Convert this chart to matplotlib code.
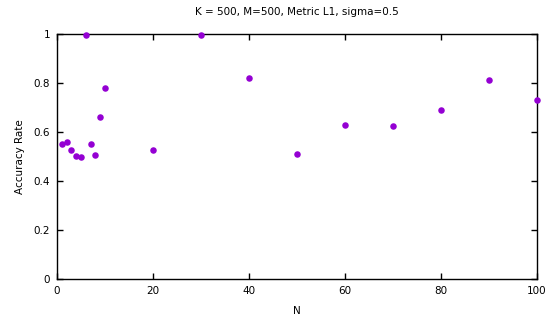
import matplotlib
matplotlib.use("Agg")
import matplotlib.pyplot as plt
from matplotlib.ticker import FuncFormatter

# Accuracy rate vs N (K = 500, M = 500, metric L1, sigma = 0.5)
n_values = [1, 2, 3, 4, 5, 6, 7, 8, 9, 10, 20, 30, 40, 50, 60, 70, 80, 90, 100]
accuracy = [0.550, 0.559, 0.525, 0.503, 0.499, 0.995, 0.550, 0.507, 0.662,
            0.778, 0.525, 0.995, 0.822, 0.510, 0.627, 0.624, 0.691, 0.811,
            0.729]

x_ticks = [0, 20, 40, 60, 80, 100]
y_ticks = [0, 0.2, 0.4, 0.6, 0.8, 1]

plt.rcParams['font.family'] = ['DejaVu Sans']
plt.rcParams['font.size'] = 7.5

fig = plt.figure(figsize=(5.46, 3.24), dpi=100)
ax = fig.add_axes([0.1044, 0.139, 0.8791, 0.756])

ax.scatter(n_values, accuracy, s=22, color='#9400D3', linewidths=0, zorder=3,
           clip_on=False)

ax.set_xlim(0, 100)
ax.set_ylim(0, 1)
ax.set_xticks(x_ticks)
ax.set_yticks(y_ticks)
ax.yaxis.set_major_formatter(FuncFormatter(lambda v, p: '%g' % v))
ax.tick_params(direction='in', top=True, right=True, length=4, width=1,
               labelsize=7.5, pad=5)
for s in ax.spines.values():
    s.set_linewidth(1.0)

ax.set_xlabel('N', fontsize=7.5, labelpad=7)
ax.set_ylabel('Accuracy Rate', fontsize=7.5, labelpad=6)
ax.set_title('K = 500, M=500, Metric L1, sigma=0.5', fontsize=7.5, pad=14)

fig.savefig('out.png', dpi=100)
